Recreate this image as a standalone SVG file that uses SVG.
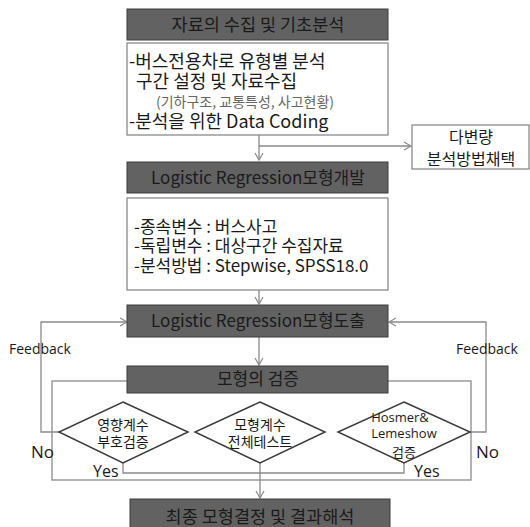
<svg xmlns="http://www.w3.org/2000/svg" width="530" height="527" viewBox="0 0 530 527">
<style>
text{font-family:"Noto Sans CJK KR",sans-serif;fill:#1a1a1a}
.os{font-family:"Open Sans","Noto Sans CJK KR",sans-serif}
.dark{fill:#626262;stroke:#3c3c3c;stroke-width:1}
.wbox{fill:#fff;stroke:#808080;stroke-width:1.2}
.ln{fill:none;stroke:#8a8a8a;stroke-width:1.3}
.dm{fill:#fff;stroke:#3c3c3c;stroke-width:1.5}
.t18{font-size:18px}
.t175{font-size:17.5px}
.t17{font-size:17px}
.t16{font-size:16px}
.t14{font-size:14px}
.t13{font-size:13px}
.c{text-anchor:middle}
.gray{fill:#666}
</style>
<defs>
<marker id="ar" markerWidth="10" markerHeight="10" refX="8" refY="5" orient="auto" markerUnits="userSpaceOnUse">
<path d="M1,1 L8,5 L1,9" fill="none" stroke="#8a8a8a" stroke-width="1.2"/>
</marker>
</defs>
<rect width="530" height="527" fill="#fff"/>
<g id="connectors">
<rect x="52" y="381" width="419" height="99" class="ln"/>
<path class="ln" d="M259,135 V160" marker-end="url(#ar)"/>
<path class="ln" d="M259,146 H411" marker-end="url(#ar)"/>
<path class="ln" d="M259,290 V304" marker-end="url(#ar)"/>
<path class="ln" d="M259,337 V365" marker-end="url(#ar)"/>
<path class="ln" d="M59,432 H41 V322 H127" marker-end="url(#ar)"/>
<path class="ln" d="M470,432 H486 V322 H389" marker-end="url(#ar)"/>
<path class="ln" d="M123,463 V473 H404 V463"/>
<path class="ln" d="M260,463 V498" marker-end="url(#ar)"/>
</g>
<g id="n1">
<rect x="127" y="9" width="261" height="31" class="dark"/>
<text x="258" y="31" class="t175 c">자료의 수집 및 기초분석</text>
</g>
<g id="n2">
<rect x="127" y="43" width="261" height="92" class="wbox"/>
<text x="129" y="68" class="t18">-버스전용차로 유형별 분석</text>
<text x="136" y="88" class="t18">구간 설정 및 자료수집</text>
<text x="156" y="107" class="t14 gray">(기하구조, 교통특성, 사고현황)</text>
<text x="129" y="128" class="t18">-분석을 위한 Data Coding</text>
</g>
<g id="n3">
<rect x="412" y="125" width="117" height="44" class="wbox"/>
<text x="471" y="143" class="t16 c">다변량</text>
<text x="471" y="165" class="t16 c">분석방법채택</text>
</g>
<g id="n4">
<rect x="127" y="162" width="261" height="31" class="dark"/>
<text x="258" y="184" class="t17 c">Logistic Regression모형개발</text>
</g>
<g id="n5">
<rect x="127" y="198" width="261" height="92" class="wbox"/>
<text x="134" y="233" class="t17">-종속변수 : 버스사고</text>
<text x="134" y="252" class="t17">-독립변수 : 대상구간 수집자료</text>
<text x="134" y="272" class="t17">-분석방법 : Stepwise, SPSS18.0</text>
</g>
<g id="n6">
<rect x="127" y="305" width="261" height="32" class="dark"/>
<text x="258" y="327" class="t17 c">Logistic Regression모형도출</text>
</g>
<g id="n7">
<rect x="127" y="366" width="261" height="27" class="dark"/>
<text x="258" y="385" class="t17 c">모형의 검증</text>
</g>
<g id="d1">
<polygon points="123,402 188,432 123,463 59,432" class="dm"/>
<text x="123" y="430" class="t14 c">영향계수</text>
<text x="123" y="447" class="t14 c">부호검증</text>
</g>
<g id="d2">
<polygon points="260,402 325,432 260,463 195,432" class="dm"/>
<text x="260" y="430" class="t14 c">모형계수</text>
<text x="260" y="447" class="t14 c">전체테스트</text>
</g>
<g id="d3">
<polygon points="404,402 470,432 404,463 338,432" class="dm"/>
<text x="400" y="422" class="t13 c os">Hosmer&amp;</text>
<text x="404" y="438" class="t13 c os">Lemeshow</text>
<text x="404" y="457" class="t13 c">검증</text>
</g>
<g id="labels">
<text x="9" y="354" class="t14 os">Feedback</text>
<text x="456" y="354" class="t14 os">Feedback</text>
<text x="31" y="458" class="t17 os">No</text>
<text x="476" y="458" class="t17 os">No</text>
<text x="93" y="477" class="t16 os">Yes</text>
<text x="414" y="477" class="t16 os">Yes</text>
</g>
<g id="n8">
<rect x="130" y="499" width="260" height="40" class="dark"/>
<text x="260" y="523" class="t175 c">최종 모형결정 및 결과해석</text>
</g>
</svg>
